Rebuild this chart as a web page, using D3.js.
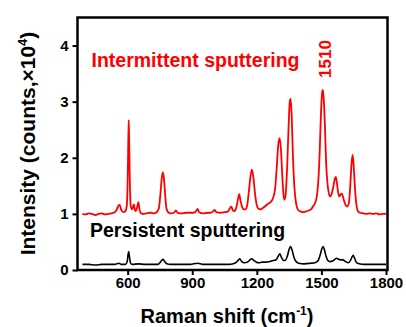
<!DOCTYPE html>
<html>
<head>
<meta charset="utf-8">
<script src="https://cdn.jsdelivr.net/npm/d3@7"></script>
<style>
  body { margin: 0; background: #fff; }
  svg { display: block; font-family: "Liberation Sans", Arial, sans-serif; font-weight: bold; }
</style>
</head>
<body>
<svg id="chart"></svg>
<script>
// Raman shift (cm-1) and intensity (x10^4)
const redShift = [390,405,420,435,450,465,480,495,510,525,540,550,558,563,570,580,590,596,600,603,605,607,610,614,620,625,629,633,638,644,650,655,662,675,690,700,710,720,735,745,752,758,763,768,774,780,788,800,815,824,832,850,870,890,905,918,925,932,950,970,985,995,1004,1012,1030,1050,1065,1075,1081,1088,1095,1105,1112,1118,1124,1132,1140,1147,1155,1163,1170,1177,1184,1192,1200,1208,1216,1226,1240,1252,1264,1275,1285,1292,1300,1306,1312,1318,1323,1328,1334,1341,1348,1353,1357,1362,1368,1375,1382,1392,1405,1414,1425,1440,1452,1462,1470,1478,1485,1492,1498,1503,1506,1510,1516,1522,1528,1534,1540,1548,1556,1562,1567,1572,1578,1583,1590,1595,1602,1610,1620,1628,1634,1640,1645,1650,1656,1663,1671,1680,1695,1710,1725,1740,1755,1770,1785,1800];
const redIntensity = [1.00,0.99,1.01,1.00,0.98,1.00,1.01,0.99,1.00,1.01,1.03,1.08,1.15,1.16,1.07,1.03,1.05,1.15,1.60,2.30,2.67,2.30,1.60,1.15,1.08,1.12,1.17,1.08,1.05,1.12,1.21,1.08,1.01,1.00,1.01,1.02,1.02,1.01,1.03,1.10,1.35,1.62,1.74,1.65,1.35,1.10,1.03,1.01,1.02,1.06,1.02,1.01,1.02,1.02,1.02,1.05,1.09,1.03,1.01,1.02,1.02,1.04,1.07,1.03,1.02,1.03,1.04,1.10,1.13,1.07,1.05,1.12,1.25,1.35,1.24,1.12,1.08,1.08,1.15,1.40,1.65,1.79,1.65,1.35,1.15,1.09,1.08,1.10,1.14,1.18,1.21,1.28,1.45,1.80,2.25,2.35,2.15,1.70,1.38,1.25,1.35,1.85,2.60,3.00,3.05,2.75,2.00,1.45,1.20,1.07,1.04,1.03,1.04,1.06,1.08,1.14,1.19,1.30,1.55,2.10,2.80,3.15,3.21,3.10,2.60,1.90,1.55,1.38,1.31,1.36,1.50,1.62,1.66,1.55,1.38,1.31,1.35,1.36,1.28,1.18,1.13,1.20,1.50,1.90,2.05,1.85,1.45,1.15,1.04,1.02,1.01,1.00,1.01,1.00,1.01,0.99,1.00,1.00];

const blackShift = [390,420,450,480,510,540,560,570,590,598,602,605,608,613,620,650,680,710,740,752,760,765,772,782,800,830,860,890,925,950,980,1010,1040,1070,1090,1105,1115,1121,1130,1142,1160,1170,1177,1186,1198,1210,1225,1240,1260,1276,1288,1300,1307,1315,1325,1332,1342,1350,1357,1364,1373,1385,1395,1420,1450,1470,1485,1495,1502,1508,1514,1522,1530,1540,1552,1562,1571,1580,1590,1600,1612,1625,1635,1642,1648,1655,1663,1675,1700,1730,1760,1800];
const blackIntensity = [0.10,0.10,0.09,0.10,0.10,0.10,0.12,0.10,0.10,0.15,0.28,0.33,0.25,0.13,0.10,0.11,0.10,0.10,0.10,0.14,0.18,0.19,0.15,0.11,0.10,0.10,0.10,0.10,0.12,0.10,0.10,0.10,0.10,0.10,0.11,0.14,0.18,0.20,0.15,0.13,0.15,0.19,0.20,0.17,0.14,0.13,0.14,0.14,0.15,0.17,0.18,0.25,0.29,0.22,0.17,0.17,0.25,0.37,0.42,0.35,0.22,0.14,0.12,0.11,0.12,0.13,0.17,0.28,0.38,0.42,0.36,0.24,0.17,0.15,0.16,0.19,0.21,0.19,0.18,0.18,0.15,0.13,0.17,0.23,0.26,0.20,0.13,0.11,0.10,0.10,0.10,0.10];

const xTicks = [600, 900, 1200, 1500, 1800];
const yTicks = [0, 1, 2, 3, 4];

const width = 406;
const height = 327;
const margin = { top: 17.5, right: 18.5, bottom: 57, left: 77.5 };
const w = width - margin.left - margin.right;
const h = height - margin.top - margin.bottom;

const svg = d3.select('#chart').attr('width', width).attr('height', height);
const chart = svg.append('g').attr('transform', `translate(${margin.left},${margin.top})`);

const x = d3.scaleLinear().domain([367, 1807]).range([0, w]);
const y = d3.scaleLinear().domain([0, 4.5]).range([h, 0]);

chart.append('clipPath').attr('id', 'clip')
  .append('rect').attr('width', w).attr('height', h);

const line = d3.line().x(d => x(d[0])).y(d => y(d[1])).curve(d3.curveMonotoneX);

chart.append('path')
  .datum(redShift.map((s, i) => [s, redIntensity[i]]))
  .attr('clip-path', 'url(#clip)')
  .attr('fill', 'none')
  .attr('stroke', '#ff0000')
  .attr('stroke-width', 1.8)
  .attr('stroke-linejoin', 'round')
  .attr('d', line);

chart.append('path')
  .datum(blackShift.map((s, i) => [s, blackIntensity[i]]))
  .attr('clip-path', 'url(#clip)')
  .attr('fill', 'none')
  .attr('stroke', '#000')
  .attr('stroke-width', 1.6)
  .attr('stroke-linejoin', 'round')
  .attr('d', line);

// axes
const xAxis = chart.append('g')
  .attr('transform', `translate(0,${h})`)
  .call(d3.axisBottom(x).tickValues(xTicks).tickFormat(d3.format('d'))
    .tickSize(5).tickPadding(2).tickSizeOuter(0));
const yAxis = chart.append('g')
  .call(d3.axisLeft(y).tickValues(yTicks).tickFormat(d3.format('d'))
    .tickSize(5).tickPadding(4).tickSizeOuter(0));

[xAxis, yAxis].forEach(a => {
  a.select('.domain').remove();
  a.selectAll('line').attr('stroke', '#000').attr('stroke-width', 2);
  a.selectAll('text')
    .attr('fill', '#000')
    .style('font-size', '15px')
    .style('font-weight', 'bold')
    .style('font-family', '"Liberation Sans", Arial, sans-serif');
});

// frame
chart.append('rect')
  .attr('width', w).attr('height', h)
  .attr('fill', 'none')
  .attr('stroke', '#000')
  .attr('stroke-width', 2.5);

// labels
chart.append('text')
  .attr('x', 14).attr('y', 67 - margin.top)
  .attr('fill', '#ff0000')
  .style('font-size', '19.5px')
  .text('Intermittent sputtering');

chart.append('text')
  .attr('transform', `translate(${331 - margin.left},${59 - margin.top}) rotate(-90)`)
  .attr('text-anchor', 'middle')
  .attr('fill', '#ff0000')
  .style('font-size', '17px')
  .text('1510');

chart.append('text')
  .attr('x', 12.5).attr('y', 236.5 - margin.top)
  .attr('fill', '#000')
  .style('font-size', '19.5px')
  .text('Persistent sputtering');

const xTitle = svg.append('text')
  .attr('x', 227).attr('y', 323)
  .attr('text-anchor', 'middle')
  .style('font-size', '20px');
xTitle.append('tspan').text('Raman shift (cm');
xTitle.append('tspan').attr('dy', -8).style('font-size', '12px').text('-1');
xTitle.append('tspan').attr('dy', 8).text(')');

const yTitle = svg.append('text')
  .attr('transform', 'translate(34.5,143.5) rotate(-90)')
  .attr('text-anchor', 'middle')
  .style('font-size', '21px');
yTitle.append('tspan').text('Intensity (counts,×10');
yTitle.append('tspan').attr('dy', -8).style('font-size', '13px').text('4');
yTitle.append('tspan').attr('dy', 8).text(')');
</script>
</body>
</html>
